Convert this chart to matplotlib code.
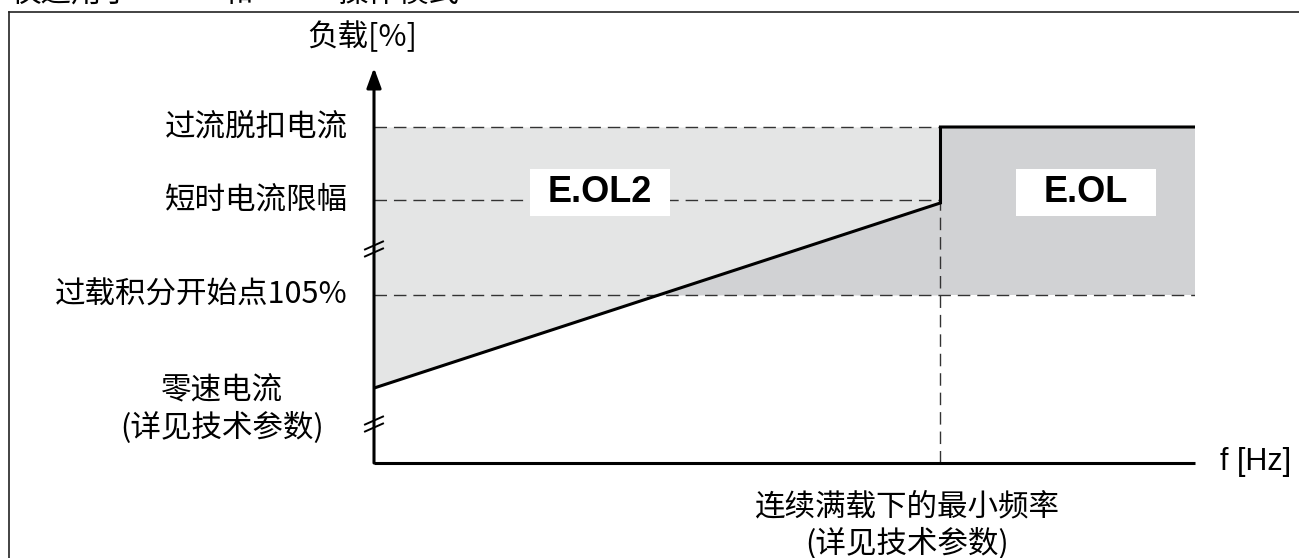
import numpy as np
import matplotlib
matplotlib.use("Agg")
import matplotlib.pyplot as plt
from matplotlib.patches import Rectangle

plt.rcParams['font.family'] = ['Noto Sans CJK SC', 'DejaVu Sans']
plt.rcParams['font.weight'] = 'light'

# ---- data (schematic units) ----
f_min = 69.0          # minimum frequency for continuous full load
f_end = 100.0         # end of frequency axis
y_top = 117.6         # arrow tip of load axis
level_trip = 100.0    # 过流脱扣电流
level_short = 78.3    # 短时电流限幅
level_ol = 50.0       # 过载积分开始点105%
level_zero = 22.3     # 零速电流
line_end = 77.4       # sloped limit at f_min
break_levels = [63.7, 11.6]

curve_x = [0.0, f_min, f_min, f_end]
curve_y = [level_zero, line_end, level_trip, level_trip]

level_labels = ['过流脱扣电流', '短时电流限幅', '过载积分开始点105%']
level_values = [level_trip, level_short, level_ol]
zero_labels = ['零速电流', '(详见技术参数)']
x_note = ['连续满载下的最小频率', '(详见技术参数)']
y_title = '负载[%]'
x_title = 'f [Hz]'
region_labels = ['E.OL2', 'E.OL']
top_words = ['仅适用于', '和', '操作模式']

# ---- figure ----
W, H = 1299, 558
fig = plt.figure(figsize=(W / 100, H / 100), dpi=100)
ox, oy = 374, 463            # origin pixel
pxx, pxy = 8.21, 3.36        # pixels per unit
ax = fig.add_axes([ox / W, (H - oy) / H, f_end * pxx / W, y_top * pxy / H])
ax.set_xlim(0, f_end)
ax.set_ylim(0, y_top)
ax.axis('off')

light = '#e4e5e5'
dark = '#d1d2d4'
dashc = '#333333'
ds = (0, (9.0, 5.0))

xs = np.linspace(0, f_min, 400)
ys = np.interp(xs, curve_x[:2], curve_y[:2])
ax.fill_between(xs, ys, level_trip, color=light, lw=0, zorder=1)
ax.fill_between(xs, level_ol, ys, where=ys >= level_ol, interpolate=True,
                color=dark, lw=0, zorder=1)
ax.fill_between([f_min, f_end], level_ol, level_trip, color=dark, lw=0, zorder=1)

# dashed guides
ax.plot([0, f_min], [level_trip, level_trip], color=dashc, lw=1.0, ls=ds, zorder=2)
ax.plot([0, f_min], [level_short, level_short], color=dashc, lw=1.0, ls=ds, zorder=2)
ax.plot([0, f_end], [level_ol, level_ol], color=dashc, lw=1.0, ls=ds, zorder=2)
ax.plot([f_min, f_min], [0, line_end], color=dashc, lw=1.0, ls=ds, zorder=2)

# label boxes
bw, bh = 140 / pxx, 47 / pxy
for lab, cx, cy in zip(region_labels, [27.5, 86.7], [80.4, 80.4]):
    ax.add_patch(Rectangle((cx - bw / 2, cy - bh / 2), bw, bh, facecolor='white',
                           edgecolor='none', zorder=3))
    ax.text(cx, cy, lab, ha='center', va='center', fontsize=26,
            fontweight='bold', family='Liberation Sans', zorder=4)

# limit curve
ax.plot(curve_x, curve_y, color='black', lw=2.2, solid_joinstyle='miter', zorder=5)

# axes
ax.plot([0, f_end], [0, 0], color='black', lw=2.2, clip_on=False, zorder=5,
        solid_capstyle='butt')
ax.annotate('', xy=(0, y_top), xytext=(0, 0),
            arrowprops=dict(arrowstyle='-|>,head_length=0.6,head_width=0.22',
                            mutation_scale=20, lw=2.2, color='black',
                            shrinkA=0, shrinkB=0),
            annotation_clip=False, zorder=5)

# axis breaks
hw, hr, off = 9 / pxx, 4 / pxy, 3.5 / pxy
for b in break_levels:
    for d in (-off, off):
        ax.plot([-hw, hw], [b + d - hr, b + d + hr], color='black', lw=1.4,
                clip_on=False, zorder=6)

# texts
fs = 22
lx = (348 - ox) / pxx
for lab, v in zip(level_labels, level_values):
    ax.text(lx, v, lab, ha='right', va='center', fontsize=fs, clip_on=False)
zx = (222 - ox) / pxx
ax.text(zx, (oy - 391) / pxy, zero_labels[0], ha='center', va='center', fontsize=fs)
ax.text(zx, (oy - 428) / pxy, zero_labels[1], ha='center', va='center', fontsize=fs)
ax.text((362 - ox) / pxx, (oy - 37) / pxy, y_title, ha='center', va='center', fontsize=fs)
ax.text((1220 - ox) / pxx, (oy - 462) / pxy, x_title, ha='left', va='center',
        fontsize=22, family='Liberation Sans', fontweight='normal')
nx = (907 - ox) / pxx
ax.text(nx, (oy - 507) / pxy, x_note[0], ha='center', va='center', fontsize=fs)
ax.text(nx, (oy - 544) / pxy, x_note[1], ha='center', va='center', fontsize=fs)

# outer frame (left and top edges) and cut-off heading
fig.add_artist(plt.Line2D([9 / W, 9 / W], [0, 1 - 12 / H], color='#222222', lw=1.2,
                          transform=fig.transFigure))
fig.add_artist(plt.Line2D([9 / W, 1], [1 - 12 / H, 1 - 12 / H], color='#222222', lw=1.2,
                          transform=fig.transFigure))
for word, px in zip(top_words, [10, 222, 338]):
    fig.text(px / W, 1 + 7 / H, word, ha='left', va='center', fontsize=fs)

fig.savefig('out.png', dpi=100, facecolor='white')
